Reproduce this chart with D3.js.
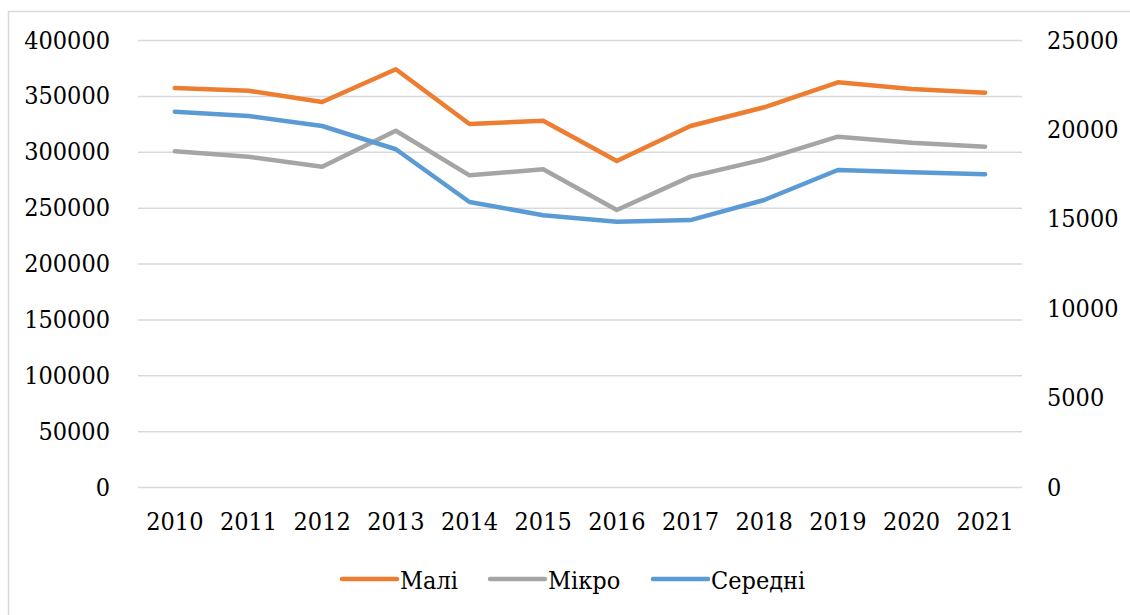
<!DOCTYPE html>
<html>
<head>
<meta charset="utf-8">
<script src="https://cdn.jsdelivr.net/npm/d3@7"></script>
<style>
  body { margin: 0; background: #fff; }
  svg { display: block; }
  svg text { font-stretch: condensed; }
</style>
</head>
<body>
<div id="chart"></div>
<script>
// data
var years = ["2010", "2011", "2012", "2013", "2014", "2015", "2016", "2017", "2018", "2019", "2020", "2021"];
var mali = [357000, 354600, 344500, 373800, 324800, 327800, 291700, 323000, 339800, 362100, 356100, 352800];
var mikro = [300400, 295600, 286600, 318800, 278900, 284300, 247900, 277700, 293200, 313500, 308100, 304500];
var seredni = [20990, 20750, 20190, 18890, 15940, 15200, 14840, 14930, 16050, 17730, 17600, 17490];
var leftTicks = [0, 50000, 100000, 150000, 200000, 250000, 300000, 350000, 400000];
var rightTicks = [0, 5000, 10000, 15000, 20000, 25000];
var seriesNames = ["Малі", "Мікро", "Середні"];
var seriesColors = ["#ED7D31", "#A5A5A5", "#5B9BD5"];

var FONT = "DejaVu Serif Condensed, DejaVu Serif";
var FSIZE = 25;

var width = 1130, height = 615;
var margin = { top: 40, right: 108, bottom: 128, left: 138 };
var plotW = width - margin.left - margin.right;
var plotH = height - margin.top - margin.bottom;

var svg = d3.select("#chart").append("svg")
    .attr("width", width)
    .attr("height", height)
    .attr("font-family", FONT);

// chart frame
svg.append("rect")
    .attr("x", 8.5).attr("y", 11.5)
    .attr("width", width).attr("height", height)
    .attr("fill", "none")
    .attr("stroke", "#d9d9d9")
    .attr("stroke-width", 1.5);

var g = svg.append("g").attr("transform", "translate(" + margin.left + "," + margin.top + ")");

var x = d3.scaleBand().domain(years).range([0, plotW]);
var yL = d3.scaleLinear().domain([0, 400000]).range([plotH, 0]);
var yR = d3.scaleLinear().domain([0, 25000]).range([plotH, 0]);

function styleText(sel) {
    sel.attr("font-family", FONT).attr("font-size", FSIZE);
    sel.selectAll("text").attr("fill", "#000");
}

// gridlines from the left axis
g.append("g")
    .attr("class", "grid")
    .call(d3.axisLeft(yL).tickValues(leftTicks).tickSize(-plotW).tickFormat(""))
    .call(s => s.select(".domain").remove())
    .selectAll("line")
    .attr("stroke", "#d9d9d9")
    .attr("stroke-width", 1.5);

// left axis labels
g.append("g")
    .call(d3.axisLeft(yL).tickValues(leftTicks).tickSize(0).tickPadding(28).tickFormat(d3.format("d")))
    .call(s => s.select(".domain").remove())
    .call(styleText);

// right axis labels
g.append("g")
    .attr("transform", "translate(" + plotW + ",0)")
    .call(d3.axisRight(yR).tickValues(rightTicks).tickSize(0).tickPadding(25).tickFormat(d3.format("d")))
    .call(s => s.select(".domain").remove())
    .call(styleText);

// x axis
g.append("g")
    .attr("transform", "translate(0," + plotH + ")")
    .call(d3.axisBottom(x).tickSize(0).tickPadding(25))
    .call(s => s.select(".domain").remove())
    .call(styleText);

var lineL = d3.line()
    .x((d, i) => x(years[i]) + x.bandwidth() / 2)
    .y(d => yL(d));
var lineR = d3.line()
    .x((d, i) => x(years[i]) + x.bandwidth() / 2)
    .y(d => yR(d));

var lines = [
    { values: mali, gen: lineL, color: seriesColors[0] },
    { values: mikro, gen: lineL, color: seriesColors[1] },
    { values: seredni, gen: lineR, color: seriesColors[2] }
];

lines.forEach(function(s) {
    g.append("path")
        .datum(s.values)
        .attr("fill", "none")
        .attr("stroke", s.color)
        .attr("stroke-width", 4.5)
        .attr("stroke-linejoin", "round")
        .attr("stroke-linecap", "round")
        .attr("d", s.gen);
});

// legend
var legendX = [342, 490, 653];
var legend = svg.append("g").attr("transform", "translate(0,579)")
    .attr("font-family", FONT)
    .attr("font-size", FSIZE);
seriesNames.forEach(function(name, i) {
    var item = legend.append("g").attr("transform", "translate(" + legendX[i] + ",0)");
    item.append("line")
        .attr("x1", 0).attr("x2", 55)
        .attr("y1", 0).attr("y2", 0)
        .attr("stroke", seriesColors[i])
        .attr("stroke-width", 4.5)
        .attr("stroke-linecap", "round");
    item.append("text")
        .attr("x", 58)
        .attr("y", 10)
        .text(name);
});
</script>
</body>
</html>
